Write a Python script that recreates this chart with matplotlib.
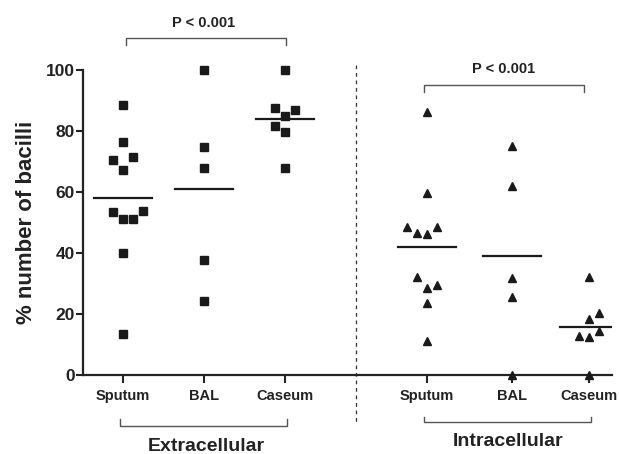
import numpy as np
import matplotlib
matplotlib.use('Agg')
import matplotlib.pyplot as plt

plt.rcParams['font.family'] = ['Liberation Sans', 'DejaVu Sans']
plt.rcParams['font.weight'] = 'bold'

categories = ['Sputum', 'BAL', 'Caseum']

# extracellular (% of bacilli)
ext_sputum = [88.5, 76.3, 70.5, 71.4, 67.2, 53.5, 51.0, 51.0, 53.8, 40.1, 13.4]
ext_bal = [100, 74.6, 68.0, 37.7, 24.4]
ext_caseum = [100, 87.4, 86.9, 85.0, 81.6, 79.8, 67.8]

# intracellular (% of bacilli)
int_sputum = [86.3, 59.8, 48.6, 46.4, 46.2, 48.6, 32.2, 28.4, 29.5, 23.5, 11.1]
int_bal = [75.2, 62.0, 31.9, 25.5, 0]
int_caseum = [32.2, 20.2, 18.3, 14.4, 12.9, 12.6, 0]

# side-by-side slots for overlapping points (scatter arrangement)
ext_sputum_slot = [0, 0, -1, 1, 0, -1, 0, 1, 2, 0, 0]
ext_bal_slot = [0, 0, 0, 0, 0]
ext_caseum_slot = [0, -1, 1, 0, -1, 0, 0]
int_sputum_slot = [0, 0, -2, -1, 0, 1, -1, 0, 1, 0, 0]
int_bal_slot = [0, 0, 0, 0, 0]
int_caseum_slot = [0, 1, 0, 1, -1, 0, 0]

ext_x = [0, 1, 2]
int_x = [3.75, 4.8, 5.75]
slot_w = 0.123

fig = plt.figure(figsize=(6.19, 4.54), dpi=100)
ax = fig.add_axes([0.134, 0.174, 0.855, 0.672])

groups = [
    (ext_x[0], ext_sputum, ext_sputum_slot, 's', 5.9),
    (ext_x[1], ext_bal, ext_bal_slot, 's', 5.9),
    (ext_x[2], ext_caseum, ext_caseum_slot, 's', 5.9),
    (int_x[0], int_sputum, int_sputum_slot, '^', 6.3),
    (int_x[1], int_bal, int_bal_slot, '^', 6.3),
    (int_x[2], int_caseum, int_caseum_slot, '^', 6.3),
]
for xc, vals, slots, mk, ms in groups:
    xs = xc + np.array(slots) * slot_w
    ax.plot(xs, vals, linestyle='none', marker=mk, ms=ms, color='#1a1a1a',
            clip_on=False, zorder=3)
    m = np.mean(vals)
    ax.plot([xc - 0.36, xc + 0.36], [m, m], color='#1a1a1a', lw=1.6, zorder=2)

ax.set_xlim(-0.494, 6.04)
ax.set_ylim(0, 100)
ax.set_yticks([0, 20, 40, 60, 80, 100])
ax.set_xticks(ext_x + int_x)
ax.set_xticklabels(categories + categories, fontsize=10.5, fontweight='bold',
                   color='#222222')
for lab in ax.get_yticklabels():
    lab.set_fontsize(12.5)
    lab.set_fontweight('bold')
    lab.set_color('#222222')
ax.tick_params(axis='y', length=5, width=1.5, pad=1, color='#222222')
ax.tick_params(axis='x', length=6, width=1.5, pad=4, color='#222222')
for s in ['top', 'right']:
    ax.spines[s].set_visible(False)
for s in ['left', 'bottom']:
    ax.spines[s].set_linewidth(1.6)
    ax.spines[s].set_color('#222222')
ax.set_ylabel('% number of bacilli', fontsize=16, fontweight='bold', labelpad=6,
              color='#222222')

# dashed divider
xd = (ext_x[2] + int_x[0]) / 2
ax.plot([xd, xd], [101.5, -16.5], color='#333333', lw=0.9, ls=(0, (3, 3)),
        clip_on=False)

br = '#555555'
# top brackets
ax.plot([ext_x[0] + 0.04, ext_x[0] + 0.04, ext_x[2] + 0.01, ext_x[2] + 0.01],
        [108.2, 110.4, 110.4, 108.2], color=br, lw=1, clip_on=False)
ax.text((ext_x[0] + ext_x[2]) / 2, 115.4, 'P < 0.001', ha='center', va='center',
        fontsize=10.5, fontweight='bold', color='#222222')
ax.plot([int_x[0] - 0.03, int_x[0] - 0.03, int_x[2] - 0.06, int_x[2] - 0.06],
        [92.6, 95.1, 95.1, 92.6], color=br, lw=1, clip_on=False)
ax.text((int_x[0] + int_x[2]) / 2 - 0.05, 100.2, 'P < 0.001', ha='center',
        va='center', fontsize=10.5, fontweight='bold', color='#222222')

# bottom brackets
ax.plot([ext_x[0] - 0.04, ext_x[0] - 0.04, ext_x[2] + 0.02, ext_x[2] + 0.02],
        [-14.5, -16.6, -16.6, -14.5], color=br, lw=1, clip_on=False)
ax.text((ext_x[0] + ext_x[2]) / 2 + 0.03, -23.3, 'Extracellular', ha='center',
        va='center', fontsize=14, fontweight='bold', color='#222222')
ax.plot([int_x[0] - 0.03, int_x[0] - 0.03, int_x[2] + 0.03, int_x[2] + 0.03],
        [-13.7, -15.5, -15.5, -13.7], color=br, lw=1, clip_on=False)
ax.text((int_x[0] + int_x[2]) / 2 + 0.0, -21.9, 'Intracellular', ha='center',
        va='center', fontsize=14, fontweight='bold', color='#222222')

fig.savefig('out.png', dpi=100)
